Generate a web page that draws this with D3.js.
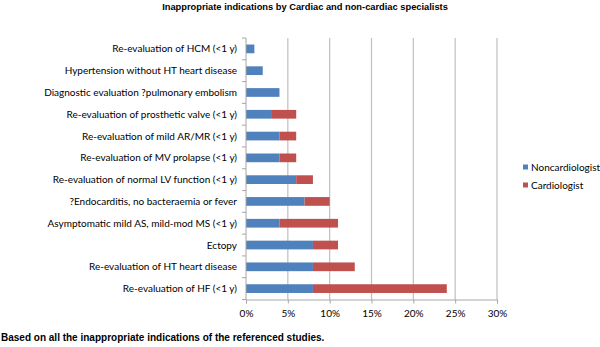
<!DOCTYPE html>
<html><head><meta charset="utf-8">
<script src="https://cdn.jsdelivr.net/npm/d3@7"></script>
<style>body{margin:0;background:#fff}svg{display:block}</style>
</head><body>
<svg id="c" width="600" height="347"></svg>
<script>
const categories = [
  "Re-evaluation of HCM (<1 y)",
  "Hypertension without HT heart disease",
  "Diagnostic evaluation ?pulmonary embolism",
  "Re-evaluation of prosthetic valve (<1 y)",
  "Re-evaluation of mild AR/MR (<1 y)",
  "Re-evaluation of MV prolapse (<1 y)",
  "Re-evaluation of normal LV function (<1 y)",
  "?Endocarditis, no bacteraemia or fever",
  "Asymptomatic mild AS, mild-mod MS (<1 y)",
  "Ectopy",
  "Re-evaluation of HT heart disease",
  "Re-evaluation of HF (<1 y)"
];
const noncardiologist = [1, 2, 4, 3, 4, 4, 6, 7, 4, 8, 8, 8];
const cardiologist    = [0, 0, 0, 3, 2, 2, 2, 3, 7, 3, 5, 16];
const seriesNames = ["Noncardiologist", "Cardiologist"];
const colors = ["#4F81BD", "#C0504D"];
const xTicks = [0, 5, 10, 15, 20, 25, 30];
const title = "Inappropriate indications by Cardiac and non-cardiac specialists";
const footnote = "Based on all the inappropriate indications of the referenced studies.";

(function () {
const svg = d3.select("#c");
const labelFont = "Lato, 'Liberation Sans', sans-serif";
const pl = 246, pr = 497, pt = 38, pb = 299.5;

const x = d3.scaleLinear().domain([0, 30]).range([pl, pr]);
const y = d3.scaleBand().domain(categories).range([pt, pb]).paddingInner(0.6).paddingOuter(0.3);
const yb = d3.scaleBand().domain(categories).range([pt, pb]);

// gridlines
svg.append("g").selectAll("line").data(xTicks.slice(1)).join("line")
  .attr("x1", d => x(d)).attr("x2", d => x(d))
  .attr("y1", pt).attr("y2", pb)
  .attr("stroke", "#BFBFBF").attr("stroke-width", 1.2);

// stacked bars
const rows = categories.map((c, i) => ({cat: c, Noncardiologist: noncardiologist[i], Cardiologist: cardiologist[i]}));
const stack = d3.stack().keys(seriesNames)(rows);
svg.append("g").selectAll("g").data(stack).join("g")
  .attr("fill", (d, i) => colors[i])
  .selectAll("rect").data(d => d).join("rect")
  .attr("x", d => x(d[0]))
  .attr("width", d => x(d[1]) - x(d[0]))
  .attr("y", d => y(d.data.cat))
  .attr("height", y.bandwidth());

// y axis
const yAxisG = svg.append("g").attr("transform", `translate(${pl},0)`);
yAxisG.append("line").attr("x1", 0).attr("x2", 0).attr("y1", pt).attr("y2", pb).attr("stroke", "#A6A6A6");
const bounds = categories.map(c => yb(c)).concat([pb]);
yAxisG.selectAll("line.t").data(bounds).join("line").attr("class", "t")
  .attr("x1", -4).attr("x2", 0).attr("y1", d => d).attr("y2", d => d).attr("stroke", "#A6A6A6");
yAxisG.selectAll("text").data(categories).join("text")
  .attr("x", -9).attr("y", d => yb(d) + yb.bandwidth() / 2)
  .attr("dy", "0.35em").attr("text-anchor", "end")
  .attr("font-family", labelFont).attr("font-size", 10).attr("fill", "#000")
  .text(d => d);

// x axis
const xAxis = d3.axisBottom(x).tickValues(xTicks).tickFormat(d => d + "%").tickSize(4).tickPadding(6);
const xg = svg.append("g").attr("transform", `translate(0,${pb})`).call(xAxis);
xg.select(".domain").attr("stroke", "#A6A6A6");
xg.selectAll(".tick line").attr("stroke", "#A6A6A6");
xg.selectAll(".tick text").attr("font-family", labelFont).attr("font-size", 10).attr("fill", "#000");

// legend
const lg = svg.append("g").attr("transform", "translate(523,167)");
seriesNames.forEach((s, i) => {
  const g = lg.append("g").attr("transform", `translate(0,${i * 18})`);
  g.append("rect").attr("x", 0).attr("y", -2.5).attr("width", 5).attr("height", 5).attr("fill", colors[i]);
  g.append("text").attr("x", 8).attr("dy", "0.35em")
    .attr("font-family", labelFont).attr("font-size", 10).text(s);
});

// title & footnote
svg.append("text").attr("x", 305).attr("y", 9.5).attr("text-anchor", "middle")
  .attr("font-family", "'Liberation Sans', Arial, sans-serif").attr("font-weight", "bold")
  .attr("font-size", 9.3).text(title);
svg.append("text").attr("x", 1).attr("y", 341)
  .attr("font-family", "'Liberation Sans', Arial, sans-serif").attr("font-weight", "bold")
  .attr("font-size", 10).text(footnote);
})();
</script>
</body></html>
